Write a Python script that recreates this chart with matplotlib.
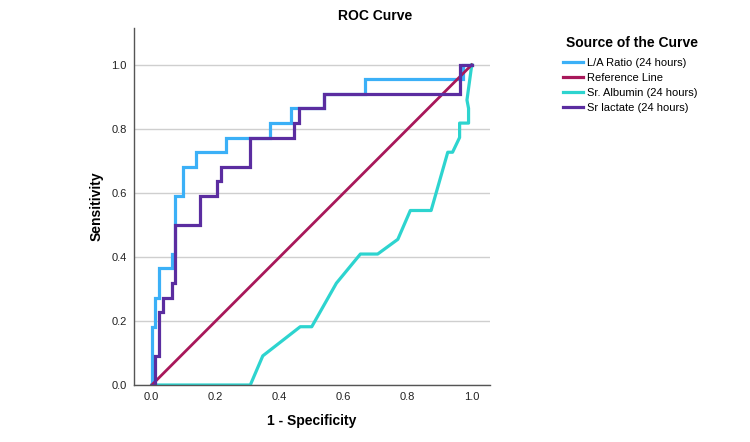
import matplotlib
matplotlib.use('Agg')
import matplotlib.pyplot as plt
from matplotlib.lines import Line2D

plt.rcParams['font.family'] = ['Liberation Sans', 'DejaVu Sans']

# ROC points (1 - specificity, sensitivity)
la_fpr = [0.0, 0.0, 0.009, 0.009, 0.023, 0.023, 0.063, 0.063, 0.074, 0.074, 0.099, 0.099,
          0.138, 0.138, 0.232, 0.232, 0.370, 0.370, 0.436, 0.436, 0.539, 0.539, 0.667, 0.667,
          0.972, 0.972, 1.0]
la_tpr = [0.0, 0.182, 0.182, 0.273, 0.273, 0.364, 0.364, 0.409, 0.409, 0.591, 0.591, 0.682,
          0.682, 0.727, 0.727, 0.773, 0.773, 0.818, 0.818, 0.864, 0.864, 0.909, 0.909, 0.955,
          0.955, 1.0, 1.0]

ref_fpr = [0.0, 1.0]
ref_tpr = [0.0, 1.0]

alb_fpr = [0.0, 0.308, 0.347, 0.464, 0.50, 0.577, 0.652, 0.706, 0.769, 0.808, 0.873,
           0.925, 0.940, 0.962, 0.962, 0.990, 0.990, 0.985, 1.0]
alb_tpr = [0.0, 0.0, 0.091, 0.182, 0.182, 0.318, 0.409, 0.409, 0.455, 0.545, 0.545,
           0.727, 0.727, 0.773, 0.818, 0.818, 0.864, 0.890, 1.0]

lac_fpr = [0.0, 0.009, 0.009, 0.023, 0.023, 0.034, 0.034, 0.063, 0.063, 0.074, 0.074,
           0.152, 0.152, 0.204, 0.204, 0.216, 0.216, 0.306, 0.306, 0.446, 0.446, 0.461,
           0.461, 0.539, 0.539, 0.962, 0.962, 1.0]
lac_tpr = [0.0, 0.0, 0.091, 0.091, 0.227, 0.227, 0.273, 0.273, 0.318, 0.318, 0.5,
           0.5, 0.591, 0.591, 0.636, 0.636, 0.682, 0.682, 0.773, 0.773, 0.818, 0.818,
           0.864, 0.864, 0.909, 0.909, 1.0, 1.0]

labels = ['L/A Ratio (24 hours)', 'Reference Line', 'Sr. Albumin (24 hours)', 'Sr lactate (24 hours)']
colors = ['#3bb0f7', '#a8185a', '#2dd4cf', '#5b2da0']

W, H = 750, 442
fig = plt.figure(figsize=(W / 100, H / 100), dpi=100)
ax = fig.add_axes([133.5 / W, (H - 385) / H, (490 - 133.5) / W, (385 - 28) / H])

ax.plot(la_fpr, la_tpr, color=colors[0], lw=2.3, solid_joinstyle='miter')
ax.plot(alb_fpr, alb_tpr, color=colors[2], lw=2.3)
ax.plot(ref_fpr, ref_tpr, color=colors[1], lw=2.0)
ax.plot(lac_fpr, lac_tpr, color=colors[3], lw=2.3, solid_joinstyle='miter')

ax.set_xlim(-0.057, 1.057)
ax.set_ylim(0, 1.115)
ax.set_xticks([0.0, 0.2, 0.4, 0.6, 0.8, 1.0])
ax.set_yticks([0.0, 0.2, 0.4, 0.6, 0.8, 1.0])
ax.set_xticklabels(['0.0', '0.2', '0.4', '0.6', '0.8', '1.0'])
ax.set_yticklabels(['0.0', '0.2', '0.4', '0.6', '0.8', '1.0'])
ax.tick_params(length=0, labelsize=8, colors='#222222', pad=5)
ax.grid(axis='y', color='#cfcfcf', lw=1)
ax.set_axisbelow(True)
for s in ['top', 'right']:
    ax.spines[s].set_visible(False)
for s in ['left', 'bottom']:
    ax.spines[s].set_color('#555555')
    ax.spines[s].set_linewidth(1)

ax.set_xlabel('1 - Specificity', fontsize=10, fontweight='bold', labelpad=9)
ax.set_ylabel('Sensitivity', fontsize=10, fontweight='bold', labelpad=5.5)
fig.text(375 / W, 1 - 16 / H, 'ROC Curve', fontsize=10, fontweight='bold',
         ha='center', va='center')

# legend title drawn separately so it sits like the original
fig.text(566 / W, 1 - 43 / H, 'Source of the Curve', fontsize=10, fontweight='bold',
         ha='left', va='center')
handles = [Line2D([], [], color=c, lw=2.3) for c in colors]
leg = fig.legend(handles, labels, loc='upper left', bbox_to_anchor=(563 / W, 1 - 58 / H),
                 frameon=False, fontsize=8, borderpad=0, borderaxespad=0,
                 handlelength=1.8, handletextpad=0.35, labelspacing=0.45)

fig.savefig('out.png', dpi=100)
